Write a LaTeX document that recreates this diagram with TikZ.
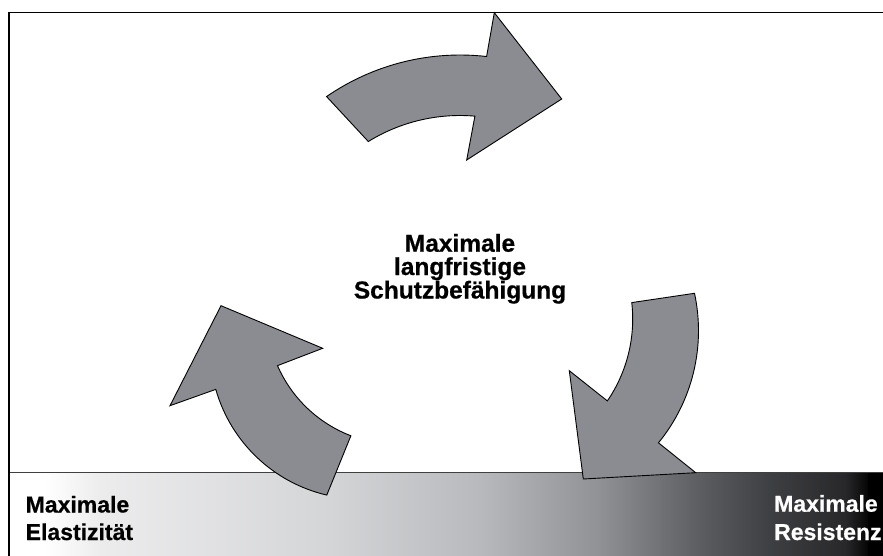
\documentclass[tikz,border=0pt]{standalone}
\usepackage{fontspec}
\setmainfont{Liberation Sans}
\newfontfamily\heavyfont[FakeBold=0.6]{Liberation Sans Bold}
\usetikzlibrary{calc}
\definecolor{arrowgray}{RGB}{138,140,145}
\definecolor{gA}{RGB}{255,255,255}
\definecolor{gB}{RGB}{236,236,237}
\definecolor{gC}{RGB}{212,213,215}
\definecolor{gD}{RGB}{184,185,188}
\definecolor{gE}{RGB}{143,145,149}
\definecolor{gF}{RGB}{92,93,97}
\definecolor{gG}{RGB}{62,63,66}
\definecolor{gH}{RGB}{40,40,43}
\definecolor{gI}{RGB}{5,5,5}
\definecolor{gJ}{RGB}{0,0,0}
\begin{document}
\begin{tikzpicture}[x=1pt,y=-1pt,
  curvedarrow/.style={fill=arrowgray,draw=black,line width=0.9pt,line join=miter},
  centertext/.style={font=\heavyfont\fontsize{24.5}{24}\selectfont,anchor=base,inner sep=0pt},
  bartext/.style={font=\heavyfont\fontsize{23}{28}\selectfont,anchor=base west,inner sep=0pt},
  frameline/.style={draw=black,line width=1.2pt},
  barline/.style={draw=black!75,line width=1pt},
  seg/.style={draw=none}]
\useasboundingbox (0,0) rectangle (883,556);
\clip (0,0) rectangle (883,556);
% gradient bar
\fill[gA] (9,472) rectangle (45.6,556);
\shade[seg,left color=gA,right color=gB] (45,472) rectangle (100.6,556);
\shade[seg,left color=gB,right color=gC] (100,472) rectangle (330.6,556);
\shade[seg,left color=gC,right color=gD] (330,472) rectangle (480.6,556);
\shade[seg,left color=gD,right color=gE] (480,472) rectangle (600.6,556);
\shade[seg,left color=gE,right color=gF] (600,472) rectangle (700.6,556);
\shade[seg,left color=gF,right color=gG] (700,472) rectangle (770.6,556);
\shade[seg,left color=gG,right color=gH] (770,472) rectangle (845.6,556);
\shade[seg,left color=gH,right color=gI] (845,472) rectangle (868.6,556);
\fill[gJ] (868,472) rectangle (884,556);
\coordinate (barL) at (9,472);
\coordinate (barR) at (884,472);
\draw[barline] (barL) -- (barR);
% frame
\coordinate (fBL) at (9,557);
\coordinate (fTL) at (9,12.5);
\coordinate (fTR) at (884,12.5);
\draw[frameline] (fBL) -- (fTL) -- (fTR);
% top arrow
\coordinate (c1) at (460,290);
\draw[curvedarrow] ($(c1)+(235.4:235)$) arc[start angle=235.4,end angle=276.5,radius=235]
  -- (494.3,12.7) -- (561.7,99) -- (466.7,160)
  -- ($(c1)+(274.9:174.5)$) arc[start angle=274.9,end angle=238.3,radius=174.5] -- cycle;
% right arrow
\coordinate (c2o) at (521.5,330.7);
\coordinate (c2i) at (487.7,319);
\draw[curvedarrow] ($(c2o)+(-12.2:177)$) arc[start angle=-12.2,end angle=39.3,radius=177]
  -- (695.7,472.7) -- (583.3,479) -- (569.3,370.7)
  -- ($(c2i)+(34.4:145)$) arc[start angle=34.4,end angle=-6.5,radius=145] -- cycle;
% left arrow
\coordinate (c3o) at (361,348);
\coordinate (c3i) at (398,313);
\draw[curvedarrow] ($(c3o)+(103.1:151)$) arc[start angle=103.1,end angle=164.1,radius=151]
  -- (170,405.7) -- (221,305.7) -- (322.7,348.3)
  -- ($(c3i)+(156.4:131.5)$) arc[start angle=156.4,end angle=111,radius=131.5] -- cycle;
% texts
\node[centertext] (t1) at (460,251.7) {Maximale};
\node[centertext] (t2) at (460,275) {langfristige};
\node[centertext] (t3) at (460,298.5) {Schutzbefähigung};
\node[bartext] (l1) at (25.5,512.5) {Maximale};
\node[bartext] (l2) at (25.5,540) {Elastizität};
\node[bartext,text=white] (r1) at (774,511.7) {Maximale};
\node[bartext,text=white] (r2) at (774,540) {Resistenz};
\end{tikzpicture}
\end{document}
